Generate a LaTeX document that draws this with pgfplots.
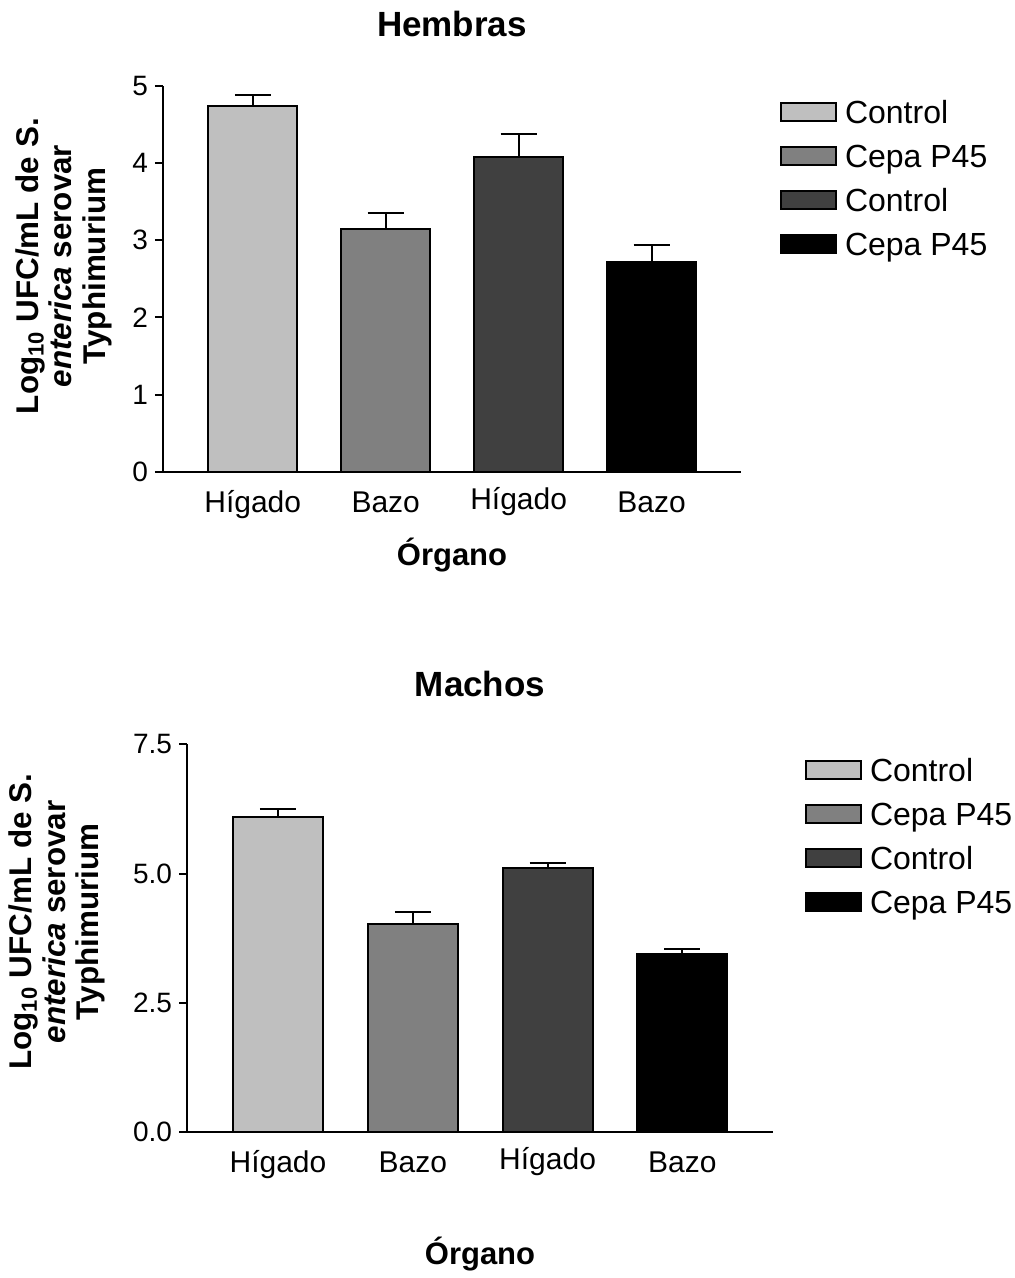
\documentclass[border=0pt]{standalone}
\usepackage{fontspec}
\setmainfont{Liberation Sans}
\usepackage{pgfplots}
\pgfplotsset{compat=1.18}
\definecolor{cA}{RGB}{191,191,191}
\definecolor{cB}{RGB}{128,128,128}
\definecolor{cC}{RGB}{64,64,64}
\definecolor{cD}{RGB}{0,0,0}
\pgfplotsset{
  mybar/.style={
    ybar, bar width=0.668, draw=black, line width=1pt,
    legend image code/.code={\draw[##1] (0.5pt,-4.5pt) rectangle (28pt,4.5pt);},
    /pgfplots/error bars/y dir=plus,
    /pgfplots/error bars/y explicit,
    /pgfplots/error bars/error bar style={line width=1pt,black,solid},
    /pgfplots/error bars/error mark options={line width=1pt,black,mark size=9pt,rotate=90},
  },
  myaxis/.style={
    scale only axis,
    axis x line*=bottom, axis y line*=left,
    axis line style={line width=1pt},
    tick align=outside,
    major tick length=4pt,
    ytick style={line width=1pt,black},
    xtick style={draw=none},
    ymin=0,
    clip=false,
    /pgf/number format/assume math mode=true,
    yticklabel style={font=\fontsize{14}{16}\selectfont},
    xticklabel style={font=\fontsize{15}{18}\selectfont, anchor=base, yshift=-16.3pt},
    title style={font=\bfseries\fontsize{17.5}{21}\selectfont, anchor=base, yshift=-6pt},
    xlabel style={font=\bfseries\fontsize{15.5}{18}\selectfont, anchor=base},
    ylabel style={font=\bfseries\fontsize{15.7}{16.75}\selectfont, align=center, anchor=center},
    legend cell align=left,
    legend style={anchor=north west, draw=none, fill=none, inner sep=0pt, outer sep=0pt,
      column sep=4pt, font=\fontsize{16}{19}\selectfont,
      nodes={inner sep=0pt, text height=11.5pt, text depth=0pt}},
  },
}
\begin{document}
\begin{tikzpicture}
\useasboundingbox (0,0) rectangle (507pt,639pt);
% ---------- Hembras ----------
\begin{axis}[myaxis, at={(81.5pt,403.15pt)}, anchor=south west,
  width=289pt, height=192.85pt,
  xmin=-0.675, xmax=3.672, ymax=5, ytick={0,1,2,3,4,5},
  xtick={0,1,2,3}, xticklabels={Hígado,Bazo,\raisebox{1.5pt}{Hígado},Bazo},
  title={Hembras}, title style={at={(axis description cs:0.5,1.128)}},
  xlabel={Órgano}, xlabel style={at={(axis description cs:0.5,-0.2445)}},
  ylabel={Log\textsubscript{10} UFC/mL de S.\\\textit{enterica} serovar\\Typhimurium},
  ylabel style={at={(axis description cs:-0.172,0.533)}},
  legend style={at={(axis description cs:1.0675,0.963)}, row sep=10.5pt},
]
\addplot[mybar, fill=cA] coordinates {(0,4.74) +- (0,0.14)};
\addplot[mybar, fill=cB] coordinates {(1,3.15) +- (0,0.20)};
\addplot[mybar, fill=cC] coordinates {(2,4.08) +- (0,0.30)};
\addplot[mybar, fill=cD] coordinates {(3,2.72) +- (0,0.22)};
\legend{Control,Cepa P45,Control,Cepa P45}
\end{axis}
% ---------- Machos ----------
\begin{axis}[myaxis, at={(93.5pt,73.15pt)}, anchor=south west,
  width=293pt, height=193.6pt,
  xmin=-0.675, xmax=3.672, ymax=7.5, ytick={0,2.5,5,7.5},
  yticklabel style={/pgf/number format/fixed, /pgf/number format/fixed zerofill, /pgf/number format/precision=1},
  xtick={0,1,2,3}, xticklabels={Hígado,Bazo,\raisebox{1.5pt}{Hígado},Bazo},
  title={Machos}, title style={at={(axis description cs:0.5,1.125)}},
  xlabel={Órgano}, xlabel style={at={(axis description cs:0.5,-0.344)}},
  ylabel={Log\textsubscript{10} UFC/mL de S.\\\textit{enterica} serovar\\Typhimurium},
  ylabel style={at={(axis description cs:-0.222,0.542)}},
  legend style={at={(axis description cs:1.0546,0.963)}, row sep=10.5pt},
]
\addplot[mybar, fill=cA] coordinates {(0,6.09) +- (0,0.16)};
\addplot[mybar, fill=cB] coordinates {(1,4.02) +- (0,0.24)};
\addplot[mybar, fill=cC] coordinates {(2,5.10) +- (0,0.11)};
\addplot[mybar, fill=cD] coordinates {(3,3.44) +- (0,0.10)};
\legend{Control,Cepa P45,Control,Cepa P45}
\end{axis}
\end{tikzpicture}
\end{document}
